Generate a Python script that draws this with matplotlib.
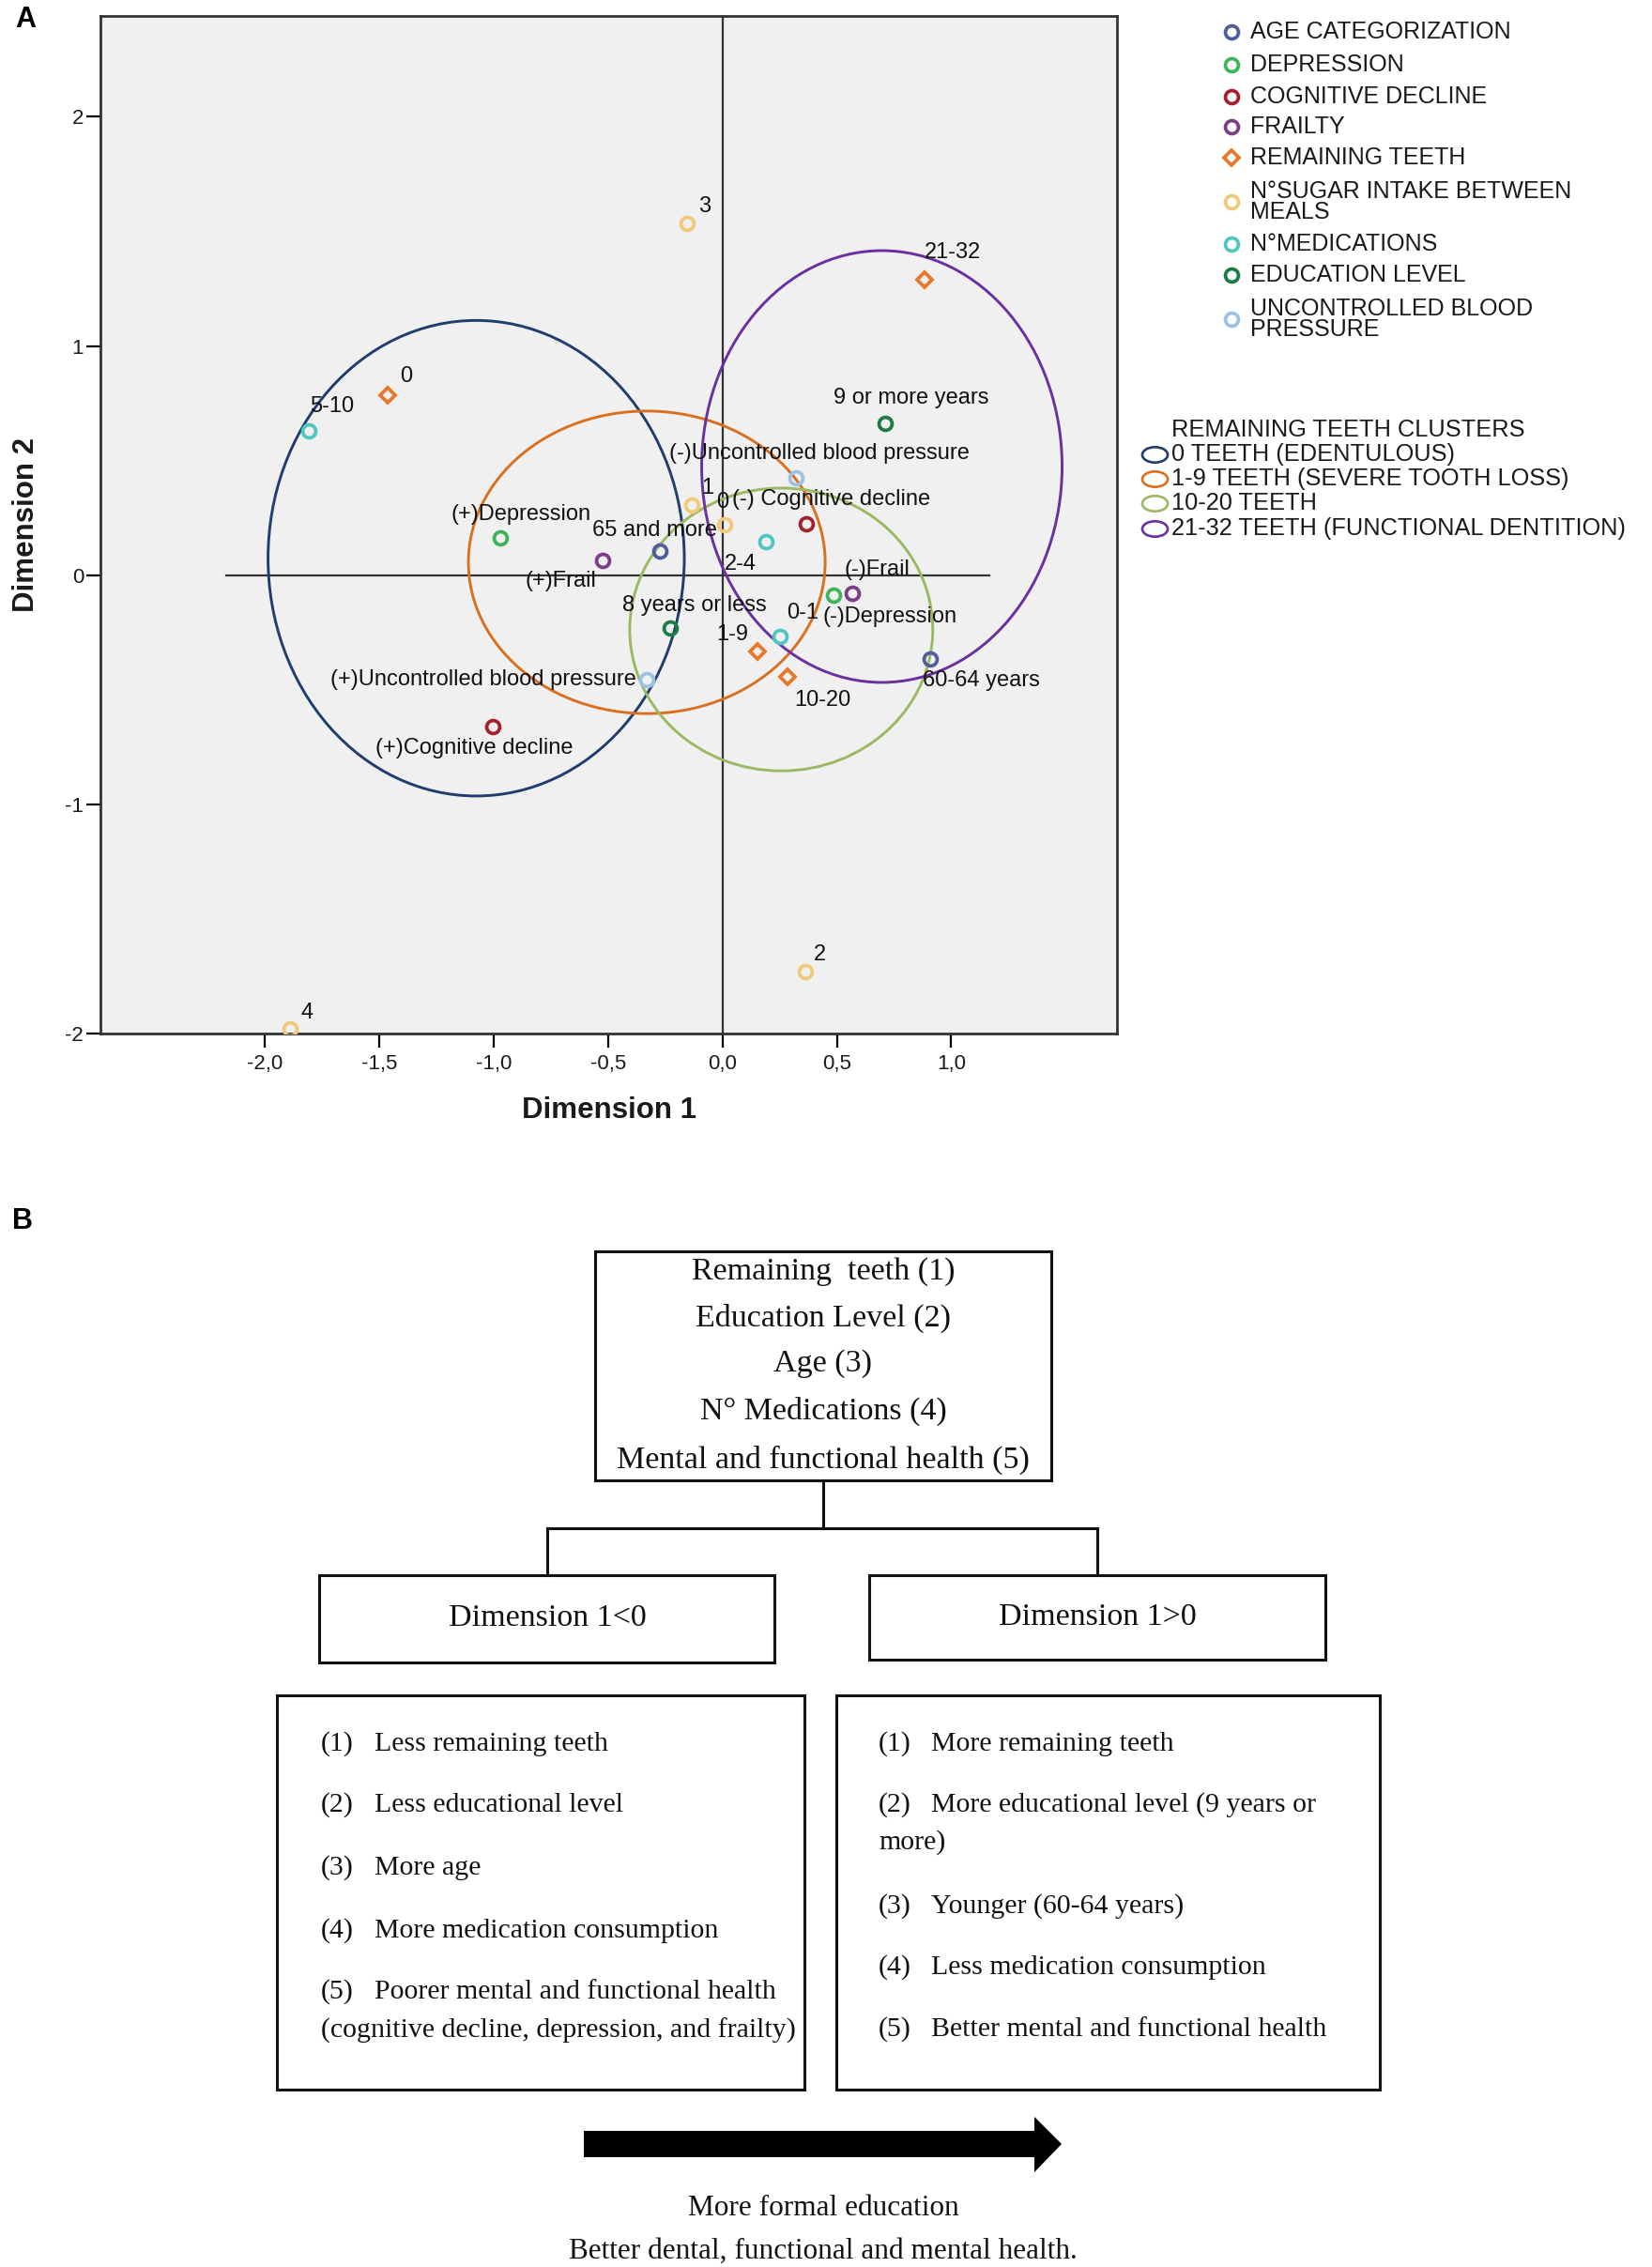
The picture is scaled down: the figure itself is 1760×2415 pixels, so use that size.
import matplotlib
matplotlib.use('Agg')
import matplotlib.pyplot as plt
from matplotlib.patches import Ellipse, Rectangle, Polygon
from matplotlib.path import Path
from matplotlib.transforms import Affine2D
import numpy as np

plt.rcParams['font.family'] = ['Liberation Sans', 'DejaVu Sans']

# ---- panel A data ----
age_x = [-0.273, 0.910]
age_y = [0.104, -0.364]
age_lab = ['65 and more', '60-64 years']

dep_x = [-0.970, 0.487]
dep_y = [0.163, -0.088]
dep_lab = ['(+)Depression', '(-)Depression']

cog_x = [-1.005, 0.367]
cog_y = [-0.662, 0.226]
cog_lab = ['(+)Cognitive decline', '(-) Cognitive decline']

frail_x = [-0.524, 0.568]
frail_y = [0.063, -0.078]
frail_lab = ['(+)Frail', '(-)Frail']

teeth_x = [-1.466, 0.154, 0.283, 0.885]
teeth_y = [0.785, -0.333, -0.443, 1.290]
teeth_lab = ['0', '1-9', '10-20', '21-32']

sugar_x = [0.010, -0.135, 0.364, -0.154, -1.890]
sugar_y = [0.220, 0.308, -1.730, 1.535, -1.980]
sugar_lab = ['0', '1', '2', '3', '4']

med_x = [0.251, 0.188, -1.810]
med_y = [-0.267, 0.148, 0.630]
med_lab = ['0-1', '2-4', '5-10']

edu_x = [-0.229, 0.713]
edu_y = [-0.229, 0.662]
edu_lab = ['8 years or less', '9 or more years']

bp_x = [-0.330, 0.323]
bp_y = [-0.455, 0.424]
bp_lab = ['(+)Uncontrolled blood pressure', '(-)Uncontrolled blood pressure']

legend_names = ['AGE CATEGORIZATION', 'DEPRESSION', 'COGNITIVE DECLINE', 'FRAILTY',
                'REMAINING TEETH', 'N\u00b0SUGAR INTAKE BETWEEN\nMEALS', 'N\u00b0MEDICATIONS',
                'EDUCATION LEVEL', 'UNCONTROLLED BLOOD\nPRESSURE']

# remaining teeth clusters (ellipses)
cluster_names = ['0 TEETH (EDENTULOUS)', '1-9 TEETH (SEVERE TOOTH LOSS)', '10-20 TEETH',
                 '21-32 TEETH (FUNCTIONAL DENTITION)']
cluster_cx = [-1.077, -0.331, 0.257, 0.697]
cluster_cy = [0.074, 0.056, -0.237, 0.474]
cluster_w = [1.82, 1.56, 1.325, 1.576]
cluster_h = [2.075, 1.32, 1.234, 1.884]

# ---- panel B text ----
top_lines = ['Remaining  teeth (1)', 'Education Level (2)', 'Age (3)',
             'N\u00b0 Medications (4)', 'Mental and functional health (5)']
left_items = ['Less remaining teeth', 'Less educational level', 'More age',
              'More medication consumption', 'Poorer mental and functional health']
left_extra = '(cognitive decline, depression, and frailty)'
right_items = ['More remaining teeth', 'More educational level (9 years or', 'Younger (60-64 years)',
               'Less medication consumption', 'Better mental and functional health']
right_extra = 'more)'

# ---- styles ----
cat_colors = ['#4d5d9d', '#3db35a', '#a3202c', '#7d3b8c', '#e8772a',
              '#f2c87a', '#4fc6c0', '#1c7c46', '#9cc1e2']
cluster_colors = ['#1f3d6e', '#d9701f', '#9bb963', '#6a2fa0']

label_off = {
    'age': [(-6, 22), (54, -23)],
    'dep': [(22, 25), (60, -23)],
    'cog': [(-20, -23), (26, 26)],
    'frail': [(-45, -22), (26, 25)],
    'teeth': [(20, 20), (-27, 18), (38, -25), (30, 29)],
    'sugar': [(-2, 24), (17, 18), (15, 18), (18, 18), (18, 17)],
    'med': [(24, 25), (-27, -24), (25, 26)],
    'edu': [(26, 24), (27, 27)],
    'bp': [(-11, 0), (25, 26)],
}

groups = [('age', age_x, age_y, age_lab), ('dep', dep_x, dep_y, dep_lab),
          ('cog', cog_x, cog_y, cog_lab), ('frail', frail_x, frail_y, frail_lab),
          ('teeth', teeth_x, teeth_y, teeth_lab), ('sugar', sugar_x, sugar_y, sugar_lab),
          ('med', med_x, med_y, med_lab), ('edu', edu_x, edu_y, edu_lab),
          ('bp', bp_x, bp_y, bp_lab)]

CIRC_MS, DIAM_MS, MEW = 10.0, 8.4, 2.7

W, H = 1760, 2415
fig = plt.figure(figsize=(W / 100, H / 100), dpi=100)

# overlay in pixel coordinates for legends and panel B
ov = fig.add_axes([0, 0, 1, 1])
ov.set_xlim(0, W)
ov.set_ylim(H, 0)
ov.axis('off')

ax = fig.add_axes([107 / W, 1 - 1101 / H, 1083 / W, 1084 / H])
ax.set_facecolor('#f0f0f0')
ax.set_xlim(-2.72, 1.725)
ax.set_ylim(-2.0, 2.44)

# reference lines
ax.plot([-2.17, 1.167], [0, 0], color='#333333', lw=1.6, zorder=1)
ax.axvline(0, color='#333333', lw=1.6, zorder=1)

for i in range(len(cluster_names)):
    e = Ellipse((cluster_cx[i], cluster_cy[i]), cluster_w[i], cluster_h[i], fill=False,
                edgecolor=cluster_colors[i], lw=2.1, zorder=2)
    ax.add_patch(e)

for gi, (key, xs, ys, labs) in enumerate(groups):
    mk = 'D' if key == 'teeth' else 'o'
    ms = DIAM_MS if key == 'teeth' else CIRC_MS
    ax.plot(xs, ys, ls='none', marker=mk, ms=ms, mfc='none', mec=cat_colors[gi], mew=MEW, zorder=3)
    for j, lab in enumerate(labs):
        dx, dy = label_off[key][j]
        ha = 'right' if (key == 'bp' and j == 0) else 'center'
        ax.annotate(lab, (xs[j], ys[j]), xytext=(dx, dy), textcoords='offset pixels',
                    ha=ha, va='center', fontsize=17, color='#111111', zorder=4)

ax.set_xticks(np.arange(-2.0, 1.01, 0.5))
ax.set_xticklabels([f'{v:.1f}'.replace('.', ',') for v in np.arange(-2.0, 1.01, 0.5)])
ax.set_yticks([-2, -1, 0, 1, 2])
ax.set_yticklabels(['-2', '-1', '0', '1', '2'])
ax.tick_params(direction='out', length=10.8, width=1.6, labelsize=16, labelcolor='#1a1a1a')
ax.tick_params(axis='x', pad=5)
ax.tick_params(axis='y', pad=2)
for s in ax.spines.values():
    s.set_color('#333333')
    s.set_linewidth(2.0)

ax.set_xlabel('Dimension 1', fontsize=22.5, fontweight='bold', color='#1a1a1a')
ax.xaxis.label.set_va('center')
ax.xaxis.set_label_coords(0.5, (1101 - 1183) / 1084)
ax.set_ylabel('Dimension 2', fontsize=22.5, fontweight='bold', color='#1a1a1a')
ax.yaxis.label.set_va('center')
ax.yaxis.set_label_coords((28 - 107) / 1083, 0.5)

# ---- category legend ----
leg_rows = [34, 69, 103, 135, 168, 215, 260, 293, 340]
for i, name in enumerate(legend_names):
    mk = 'D' if i == 4 else 'o'
    ms = DIAM_MS if i == 4 else CIRC_MS
    ov.plot([1312], [leg_rows[i]], ls='none', marker=mk, ms=ms, mfc='none',
            mec=cat_colors[i], mew=MEW)
    t = ov.text(1332, leg_rows[i], name, ha='left', va='center', fontsize=18, color='#1a1a1a')
    t.set_linespacing(0.9)

# ---- cluster legend ----
ell_marker = Path.unit_circle().transformed(Affine2D().scale(1.65, 1.0))
ov.text(1248, 458, 'REMAINING TEETH CLUSTERS', ha='left', va='center', fontsize=18.3, color='#1a1a1a')
cl_rows = [484, 510, 536, 563]
for i, name in enumerate(cluster_names):
    ov.plot([1230], [cl_rows[i]], ls='none', marker=ell_marker, ms=19.5, mfc='none',
            mec=cluster_colors[i], mew=1.9)
    ov.text(1248, cl_rows[i], name, ha='left', va='center', fontsize=18.3, color='#1a1a1a')

# panel letters
ov.text(27, 21, 'A', ha='center', va='center', fontsize=22, fontweight='bold')
ov.text(24, 1301, 'B', ha='center', va='center', fontsize=22, fontweight='bold')

# ---- panel B diagram ----
serif = ['Liberation Serif', 'DejaVu Serif']
lw_box = 2.2


def box(x0, y0, x1, y1):
    ov.add_patch(Rectangle((x0, y0), x1 - x0, y1 - y0, fill=False, edgecolor='#111111', lw=lw_box))


box(634, 1333, 1120, 1577)
top_y = [1355, 1404, 1453, 1503, 1555]
for yy, txt in zip(top_y, top_lines):
    ov.text(877, yy, txt, ha='center', va='center', fontsize=24.5, family=serif, color='#111111')

ov.plot([877, 877], [1577, 1628], color='#111111', lw=lw_box)
ov.plot([583, 1169], [1628, 1628], color='#111111', lw=lw_box)
ov.plot([583, 583], [1628, 1678], color='#111111', lw=lw_box)
ov.plot([1169, 1169], [1628, 1678], color='#111111', lw=lw_box)

box(340, 1678, 825, 1771)
box(926, 1678, 1412, 1768)
ov.text(583, 1724, 'Dimension 1<0', ha='center', va='center', fontsize=24.5, family=serif, color='#111111')
ov.text(1169, 1723, 'Dimension 1>0', ha='center', va='center', fontsize=24.5, family=serif, color='#111111')

box(295, 1806, 857, 2226)
box(891, 1806, 1470, 2226)

left_y = [1858, 1923, 1990, 2057, 2122]
for k, (yy, txt) in enumerate(zip(left_y, left_items)):
    ov.text(342, yy, f'({k + 1})', ha='left', va='center', fontsize=21.5, family=serif, color='#111111')
    ov.text(399, yy, txt, ha='left', va='center', fontsize=21.5, family=serif, color='#111111')
ov.text(342, 2163, left_extra, ha='left', va='center', fontsize=21.5, family=serif, color='#111111')

right_y = [1858, 1923, 2031, 2096, 2162]
for k, (yy, txt) in enumerate(zip(right_y, right_items)):
    ov.text(936, yy, f'({k + 1})', ha='left', va='center', fontsize=21.5, family=serif, color='#111111')
    ov.text(992, yy, txt, ha='left', va='center', fontsize=21.5, family=serif, color='#111111')
ov.text(936, 1963, right_extra, ha='left', va='center', fontsize=21.5, family=serif, color='#111111')

arrow = Polygon([(622, 2270), (1102, 2270), (1102, 2255), (1131, 2284), (1102, 2314),
                 (1102, 2298), (622, 2298)], closed=True, facecolor='#000000', edgecolor='none')
ov.add_patch(arrow)
ov.text(877, 2353, 'More formal education', ha='center', va='center', fontsize=22.5, family=serif, color='#111111')
ov.text(877, 2398, 'Better dental, functional and mental health.', ha='center', va='center',
        fontsize=22.5, family=serif, color='#111111')

fig.savefig('out.png', dpi=100, facecolor='white')
